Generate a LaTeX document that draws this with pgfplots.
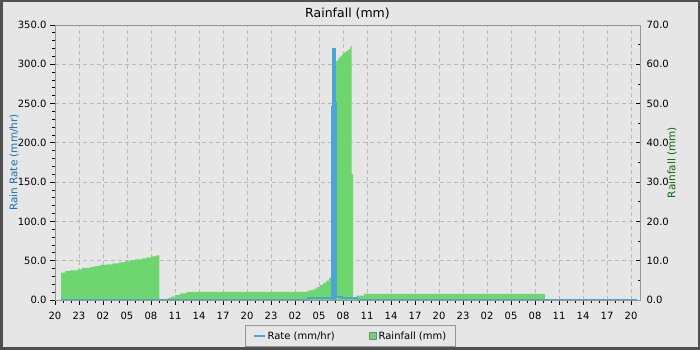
\documentclass[border=0pt]{standalone}
\usepackage{fontspec}
\setmainfont{DejaVu Sans}
\usepackage{pgfplots}
\pgfplotsset{compat=1.18}
\definecolor{bg}{RGB}{230,230,230}
\definecolor{framec}{RGB}{80,80,80}
\definecolor{ratec}{RGB}{75,165,215}
\definecolor{rainc}{RGB}{110,214,110}
\definecolor{gridc}{RGB}{185,185,185}
\definecolor{axc}{RGB}{150,150,150}
\definecolor{lblblue}{RGB}{30,110,180}
\definecolor{lblgreen}{RGB}{20,100,20}
\begin{document}
\fontsize{10}{12}\selectfont
\begin{tikzpicture}
\useasboundingbox (0,0) rectangle (700pt,350pt);
\fill[bg] (0,0) rectangle (700pt,350pt);
\draw[framec, line width=2.5pt] (1.25pt,1.25pt) rectangle (698.75pt,348.75pt);
\pgfplotsset{common/.style={scale only axis, width=585pt, height=275pt,
  at={(55pt,50pt)}, anchor=south west, xmin=0, xmax=73.125,
  xtick={0,3,...,72}, axis line style={axc},
  /pgf/number format/assume math mode=true,
  tick label style={font=\fontsize{10}{12}\selectfont},
  label style={font=\fontsize{10.5}{12}\selectfont}}}
% Rainfall axis (right)
\begin{axis}[common, ymin=0, ymax=70, ytick={0,10,...,70}, minor y tick num=1,
  ytick pos=right, yticklabel pos=right, tick align=inside,
  major tick length=4pt, minor tick length=2pt,
  y tick style={black, line width=0.8pt}, x tick style={draw=none},
  xticklabels={}, minor x tick num=0,
  xmajorgrids, ymajorgrids,
  major grid style={gridc, dash pattern=on 4pt off 3pt, line width=0.8pt},
  yticklabel style={/pgf/number format/fixed, /pgf/number format/fixed zerofill, /pgf/number format/precision=1, xshift=3pt},
  ylabel={Rainfall (mm)},
  ylabel style={at={(axis description cs:1.0547,0.5)}, anchor=center, text=lblgreen}]
\addplot[fill=rainc, draw=none, const plot] coordinates {
(0.75,6.96) (1.25,7.38) (1.875,7.55) (2.83,7.81) (3.375,8.15) (4.46,8.40) (5.0,8.65)
(5.625,8.91) (6.46,9.08) (7.21,9.33) (8.0,9.59) (8.67,9.84) (9.375,10.18) (10.0,10.35)
(10.96,10.61) (11.46,10.86) (12.08,11.12) (12.625,11.37) (13.04,0) (13.54,0.2)
(14.125,0.5) (14.5,0.85) (15.0,1.27) (15.625,1.7) (16.46,2.04) (31.6,2.4) (32.0,2.6)
(32.4,2.9) (32.75,3.3) (33.1,3.8) (33.5,4.3) (33.9,4.9) (34.25,5.6) (34.5,6.3)
(34.75,6.9) (35.0,60.5) (35.125,60.8) (35.375,61.5) (35.625,62.0) (35.875,62.5)
(36.125,63.0) (36.375,63.4) (36.625,63.8) (36.875,64.3) (37.0,64.7) (37.09,32.1)
(37.25,0.4) (37.71,1.1) (38.625,1.53) (61.25,0)
} \closedcycle;
\end{axis}
% Rate axis (left)
\begin{axis}[common, ymin=0, ymax=350, ytick={0,50,...,350}, minor y tick num=4,
  minor x tick num=2,
  xticklabels={20,23,02,05,08,11,14,17,20,23,02,05,08,11,14,17,20,23,02,05,08,11,14,17,20},
  tick align=outside, major tick length=5pt, minor tick length=3pt,
  tick style={black, line width=0.8pt}, xtick pos=left, ytick pos=left,
  yticklabel style={/pgf/number format/fixed, /pgf/number format/fixed zerofill, /pgf/number format/precision=1},
  xticklabel style={yshift=-3.5pt},
  ylabel={Rain Rate (mm/hr)},
  ylabel style={at={(axis description cs:-0.070,0.5)}, anchor=center, text=lblblue},
  title={Rainfall (mm)},
  title style={font=\fontsize{12.5}{15}\selectfont, yshift=-3.5pt},
  legend columns=2,
  legend style={at={(axis description cs:0.505,-0.131)}, anchor=center,
    draw=axc, fill=bg, font=\fontsize{10}{12}\selectfont,
    /tikz/every even column/.append style={column sep=32pt},
    inner xsep=7pt, inner ysep=4pt}]
\addplot[fill=ratec, draw=none, const plot, forget plot]
  coordinates {(34.625,245) (34.75,320) (35.0,251) (35.125,0)} \closedcycle;
\addplot[ratec, line width=2pt, const plot,
  legend image code/.code={\draw[ratec, line width=2pt] (0pt,0pt) -- (11pt,0pt);}]
  coordinates {(0.75,0) (31.6,2) (34.625,245) (34.75,320) (35.0,251) (35.125,4)
  (35.875,2) (37.75,0) (72.75,0)};
\addlegendentry{Rate (mm/hr)}
\addlegendimage{legend image code/.code={\draw[fill=rainc, draw=gray, line width=0.8pt] (2pt,-3.5pt) rectangle (9pt,3.5pt);}}
\addlegendentry{Rainfall (mm)}
\end{axis}
\end{tikzpicture}
\end{document}
